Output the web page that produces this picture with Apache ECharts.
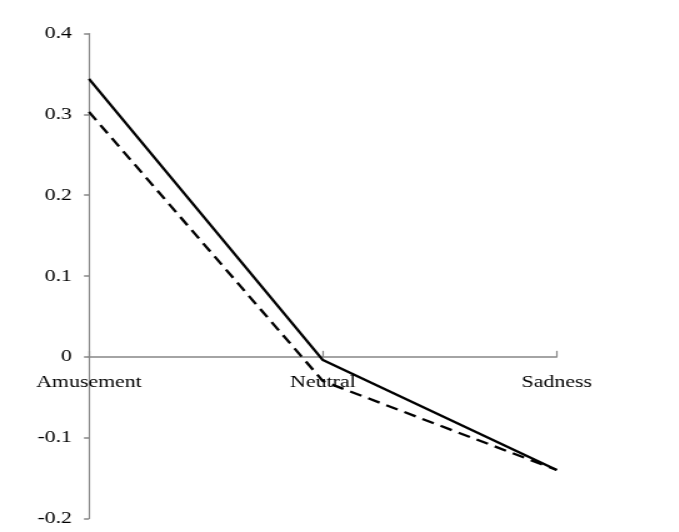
<!DOCTYPE html>
<html><head><meta charset="utf-8">
<script src="https://cdn.jsdelivr.net/npm/echarts@6/dist/echarts.min.js"></script>
<style>html,body{margin:0;padding:0;background:#fff;overflow:hidden}#c{width:543.2px;height:532px;transform:scaleX(1.25);transform-origin:0 0}</style>
</head><body><div id="c"></div>
<script>
var categories = ['Amusement', 'Neutral', 'Sadness'];
var solidValues = [0.344, -0.004, -0.140];
var dashedValues = [0.303, -0.030, -0.140];
var yTicks = { min: -0.2, max: 0.4, interval: 0.1 };

var chart = echarts.init(document.getElementById('c'));
var font = 'Liberation Serif, Times New Roman, serif';
var gridTop = 33.5, gridBottom = 13.5, H = 532;
var plotH = H - gridTop - gridBottom;
var zeroOffset = -plotH * (0 - yTicks.min) / (yTicks.max - yTicks.min);
chart.setOption({
  animation: false,
  grid: { left: 71.2, right: 97.6, top: gridTop, bottom: gridBottom, containLabel: false, outerBoundsMode: 'none' },
  xAxis: {
    type: 'category', data: categories, boundaryGap: false, position: 'bottom', offset: zeroOffset,
    axisLine: { onZero: false, lineStyle: { color: '#868686', width: 1.5 } },
    axisTick: { inside: true, length: 6, lineStyle: { color: '#868686', width: 1.2 } },
    axisLabel: { margin: 17, fontFamily: font, fontSize: 17.5, color: '#000', showMinLabel: true, showMaxLabel: true, interval: 0 },
    splitLine: { show: false }
  },
  yAxis: {
    type: 'value', min: yTicks.min, max: yTicks.max, interval: yTicks.interval,
    axisLine: { show: true, lineStyle: { color: '#868686', width: 1.2 } },
    axisTick: { show: true, length: 4, lineStyle: { color: '#868686', width: 1.5 } },
    axisLabel: { margin: 13.6, fontFamily: font, fontSize: 17.5, color: '#000',
      formatter: function (v) { return String(Math.round(v * 10) / 10); } },
    splitLine: { show: false }
  },
  series: [
    { type: 'line', data: solidValues, symbol: 'none',
      lineStyle: { color: '#000', width: 2.3, type: 'solid' } },
    { type: 'line', data: dashedValues, symbol: 'none',
      lineStyle: { color: '#000', width: 2.3, type: [10, 6] } }
  ]
});
</script></body></html>
